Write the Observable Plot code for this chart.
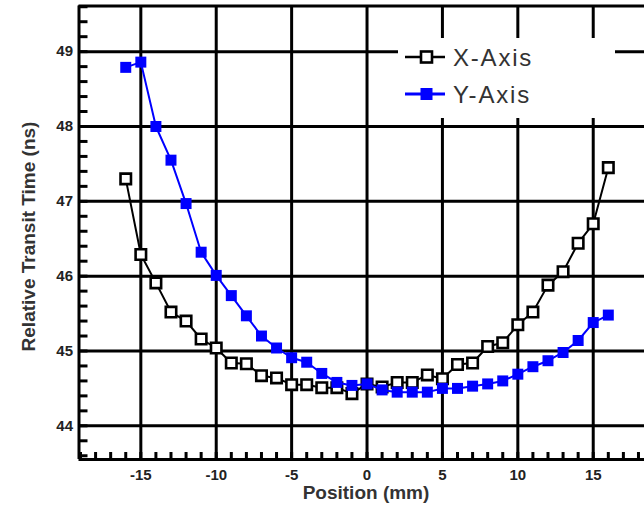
<!DOCTYPE html>
<html><head><meta charset="utf-8">
<script src="https://cdn.jsdelivr.net/npm/d3@7"></script>
<script src="https://cdn.jsdelivr.net/npm/@observablehq/plot@0.6"></script>
<style>html,body{margin:0;padding:0;background:#fff} svg{display:block}</style>
</head><body><div id="chart"></div>
<script>
const positions   = [-16,-15,-14,-13,-12,-11,-10,-9,-8,-7,-6,-5,-4,-3,-2,-1,0,1,2,3,4,5,6,7,8,9,10,11,12,13,14,15,16];
const xAxisTimes  = [47.30,46.29,45.91,45.52,45.40,45.16,45.04,44.84,44.83,44.67,44.64,44.55,44.55,44.51,44.51,44.43,44.56,44.52,44.58,44.58,44.68,44.63,44.82,44.84,45.06,45.11,45.35,45.52,45.88,46.06,46.44,46.70,47.45];
const yAxisTimes  = [48.79,48.86,48.00,47.55,46.97,46.32,46.01,45.74,45.47,45.20,45.04,44.91,44.85,44.70,44.58,44.54,44.56,44.48,44.45,44.45,44.45,44.50,44.50,44.53,44.56,44.60,44.69,44.79,44.87,44.98,45.14,45.38,45.48];
const seriesNames  = ["X-Axis", "Y-Axis"];
const seriesColors = ["#000000", "#0000ff"];
const xTicks = [-15,-10,-5,0,5,10,15];
const yTicks = [44,45,46,47,48,49];
const xMinor = d3.range(-19, 19);
const yMinor = d3.range(218, 249).map(d => d / 5);
const xDomain = [-19.1, 18.4];
const yDomain = [43.55, 49.61];
const xTitle = "Position (mm)";
const yTitle = "Relative Transit Time (ns)";

const W = 644, H = 505, mL = 78.5, mR = 0, mT = 5.5, mB = 46;
const plotW = W - mL - mR, plotH = H - mT - mB;

const data = [];
positions.forEach((p, i) => {
  data.push({pos: p, t: xAxisTimes[i], s: seriesNames[0]});
  data.push({pos: p, t: yAxisTimes[i], s: seriesNames[1]});
});
const isX = d => d.s === seriesNames[0];
const isY = d => d.s === seriesNames[1];

const font = "'Liberation Sans', Arial, sans-serif";
const fmt = d => String(d);

const chart = Plot.plot({
  width: W, height: H,
  marginLeft: mL, marginRight: mR, marginTop: mT, marginBottom: mB,
  x: {domain: xDomain, axis: null},
  y: {domain: yDomain, axis: null},
  color: {domain: seriesNames, range: seriesColors},
  style: {fontFamily: font, background: "#fff", color: "#222"},
  marks: [
    Plot.gridX(xTicks, {stroke: "#000", strokeOpacity: 1, strokeWidth: 3}),
    Plot.gridY(yTicks, {stroke: "#000", strokeOpacity: 1, strokeWidth: 3}),
    Plot.ruleX(xMinor, {y1: yDomain[1], y2: yDomain[0], insetTop: plotH - 7, stroke: "#000", strokeWidth: 3}),
    Plot.ruleY(yMinor, {x1: xDomain[0], x2: xDomain[1], insetRight: plotW - 9, stroke: "#000", strokeWidth: 3}),
    Plot.ruleY([yDomain[0], yDomain[1]], {stroke: "#000", strokeWidth: 3}),
    Plot.ruleX([xDomain[0]], {stroke: "#000", strokeWidth: 3}),
    Plot.text(xTicks, {x: d => d, y: yDomain[0], text: fmt, dy: 16, fontSize: 15, fontWeight: "bold", fill: "#222", textAnchor: "middle"}),
    Plot.text(yTicks, {x: xDomain[0], y: d => d, text: fmt, dx: -6, fontSize: 15, fontWeight: "bold", fill: "#222", textAnchor: "end"}),
    Plot.line(data, {filter: isX, x: "pos", y: "t", stroke: "s", strokeWidth: 2}),
    Plot.dot(data, {filter: isX, x: "pos", y: "t", symbol: "square", r: 5.9, stroke: "s", fill: "#fff", strokeWidth: 2.6}),
    Plot.line(data, {filter: isY, x: "pos", y: "t", stroke: "s", strokeWidth: 2}),
    Plot.dot(data, {filter: isY, x: "pos", y: "t", symbol: "square", r: 6.2, fill: "s", stroke: null})
  ]
});
document.getElementById("chart").appendChild(chart);

const svg = d3.select(chart);
// axis titles
svg.append("text")
  .attr("x", 366).attr("y", 499)
  .attr("text-anchor", "middle")
  .attr("font-family", font).attr("font-size", 19).attr("font-weight", "bold")
  .attr("fill", "#333")
  .text(xTitle);
svg.append("text")
  .attr("transform", "translate(35,236.5) rotate(-90)")
  .attr("text-anchor", "middle")
  .attr("font-family", font).attr("font-size", 19).attr("font-weight", "bold")
  .attr("fill", "#333")
  .text(yTitle);

// legend
const lg = svg.append("g");
lg.append("rect").attr("x", 398).attr("y", 38).attr("width", 217).attr("height", 80).attr("fill", "#fff");
const rows = [57, 94];
seriesNames.forEach((name, i) => {
  const y = rows[i];
  lg.append("line").attr("x1", 405).attr("x2", 445).attr("y1", y).attr("y2", y)
    .attr("stroke", seriesColors[i]).attr("stroke-width", i === 0 ? 2.5 : 3);
  if (i === 0) {
    lg.append("rect").attr("x", 421).attr("y", y - 5.5).attr("width", 11).attr("height", 11)
      .attr("fill", "#fff").attr("stroke", "#000").attr("stroke-width", 2.6);
  } else {
    lg.append("rect").attr("x", 420.5).attr("y", y - 6).attr("width", 12).attr("height", 12)
      .attr("fill", seriesColors[i]);
  }
  lg.append("text").attr("x", 453).attr("y", y + 8.5)
    .attr("text-anchor", "start")
    .attr("font-family", font).attr("font-size", 24).attr("letter-spacing", "1.8px")
    .attr("fill", "#333").text(name);
});
</script>
</body></html>
